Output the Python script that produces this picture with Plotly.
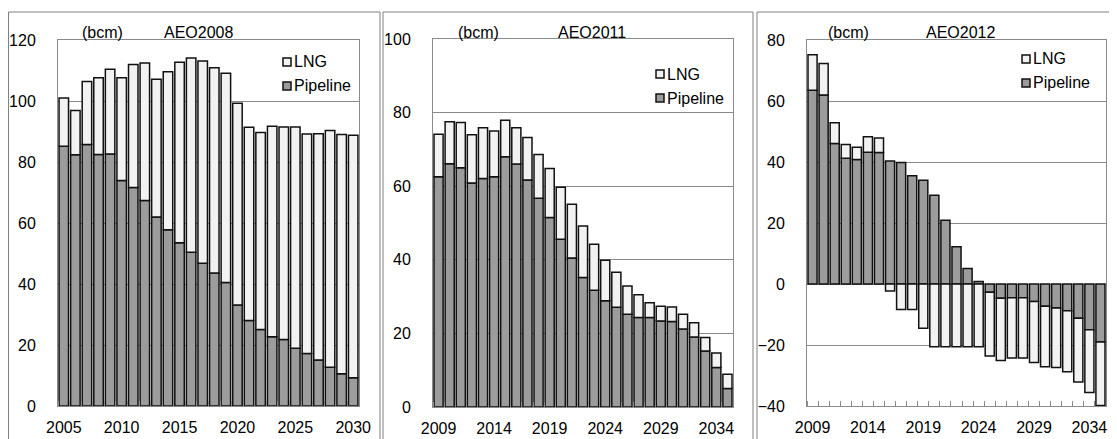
import plotly.graph_objects as go

# ---------------- data ----------------
years_2008 = [2005, 2006, 2007, 2008, 2009, 2010, 2011, 2012, 2013, 2014, 2015, 2016, 2017,
              2018, 2019, 2020, 2021, 2022, 2023, 2024, 2025, 2026, 2027, 2028, 2029, 2030]
pipeline_2008 = [85.2, 82.4, 85.7, 82.5, 82.6, 73.9, 71.6, 67.4, 62.0, 57.8, 53.5, 50.4, 46.8,
                 43.6, 40.5, 33.1, 28.0, 25.1, 22.7, 21.8, 18.9, 17.2, 15.1, 12.7, 10.6, 9.3]
lng_2008 = [15.8, 14.5, 20.7, 25.1, 27.8, 33.7, 40.4, 45.1, 45.1, 51.8, 59.2, 63.7, 66.3,
            67.3, 68.6, 66.2, 63.4, 64.6, 69.0, 69.7, 72.6, 72.0, 74.2, 77.6, 78.4, 79.5]

years_2011 = [2009, 2010, 2011, 2012, 2013, 2014, 2015, 2016, 2017, 2018, 2019, 2020, 2021, 2022,
              2023, 2024, 2025, 2026, 2027, 2028, 2029, 2030, 2031, 2032, 2033, 2034, 2035]
pipeline_2011 = [62.6, 66.1, 65.0, 60.9, 62.1, 62.6, 68.0, 66.0, 61.7, 56.7, 51.5, 45.6, 40.5, 35.2,
                 31.7, 28.9, 27.1, 25.2, 24.3, 24.3, 23.4, 23.2, 21.2, 19.0, 15.2, 10.7, 5.0]
lng_2011 = [11.5, 11.4, 12.3, 13.1, 13.8, 12.4, 9.9, 9.9, 11.5, 11.9, 13.3, 14.1, 14.6, 14.0,
            12.5, 11.0, 9.5, 7.7, 6.2, 4.0, 4.0, 4.0, 4.0, 3.9, 3.7, 4.0, 3.9]

years_2012 = [2009, 2010, 2011, 2012, 2013, 2014, 2015, 2016, 2017, 2018, 2019, 2020, 2021, 2022,
              2023, 2024, 2025, 2026, 2027, 2028, 2029, 2030, 2031, 2032, 2033, 2034, 2035]
pipeline_2012 = [63.5, 62.0, 46.1, 41.2, 40.8, 43.2, 43.1, 40.3, 39.8, 35.5, 34.0, 29.1, 20.9, 12.2,
                 5.1, 0.8, -2.7, -4.7, -4.5, -4.5, -5.7, -7.3, -7.9, -8.8, -11.2, -15.0, -19.0]
lng_2012 = [11.7, 10.3, 6.8, 4.5, 4.0, 5.1, 4.8, -2.3, -8.4, -8.4, -14.5, -20.6, -20.6, -20.6,
            -20.6, -20.6, -20.9, -20.4, -19.8, -19.8, -20.0, -19.8, -19.5, -20.0, -20.9, -20.6, -20.8]

panel_titles = ["AEO2008", "AEO2011", "AEO2012"]
unit_label = "(bcm)"
series_names = ["LNG", "Pipeline"]
y_ranges = [[0, 120], [0, 100], [-40, 80]]

# ---------------- layout helpers ----------------
# The page body has an 8px margin, so the figure is drawn 8px in from the top-left corner.
OFF = 8
W, H = 1117 - OFF, 439 - OFF
def px(x):
    return (x - OFF) / W
def py(y):
    return 1 - (y - OFF) / H

PIPE_COLOR = "#9c9c9c"
LNG_COLOR = "#f2f2f2"
GRID = "#8a8a8a"
FONT = "Liberation Sans, Arial, sans-serif"

panels = [
    dict(years=years_2008, pipe=pipeline_2008, lng=lng_2008,
         dom_x=(58, 359), dom_y=(40, 406), title_x=(102, 198),
         leg=(283, 62)),
    dict(years=years_2011, pipe=pipeline_2011, lng=lng_2011,
         dom_x=(433, 733), dom_y=(39, 407), title_x=(478, 592),
         leg=(656, 74)),
    dict(years=years_2012, pipe=pipeline_2012, lng=lng_2012,
         dom_x=(807, 1106), dom_y=(40, 406), title_x=(848, 960),
         leg=(1022, 59)),
]

fig = go.Figure()
shapes = []
annotations = []

for i, p in enumerate(panels):
    n = "" if i == 0 else str(i + 1)
    xa, ya = "x" + n, "y" + n
    fig.add_trace(go.Bar(x=p["years"], y=p["pipe"], name=series_names[1], xaxis=xa, yaxis=ya,
                         marker=dict(color=PIPE_COLOR, line=dict(color="#111111", width=1.5)),
                         showlegend=False))
    fig.add_trace(go.Bar(x=p["years"], y=p["lng"], name=series_names[0], xaxis=xa, yaxis=ya,
                         marker=dict(color=LNG_COLOR, line=dict(color="#111111", width=1.5)),
                         showlegend=False))
    yrs = p["years"]
    x0, x1 = p["dom_x"]
    y0, y1 = p["dom_y"]
    fig.layout["xaxis" + n] = dict(
        domain=[px(x0), px(x1)], anchor=ya, automargin=False,
        range=[yrs[0] - 0.5, yrs[-1] + 0.5],
        tickmode="array", tickvals=yrs[::5], ticktext=[str(v) for v in yrs[::5]],
        ticks="", showgrid=False, zeroline=False,
        showline=True, mirror=True, linecolor=GRID, linewidth=1,
        tickfont=dict(family=FONT, size=16, color="black"),
        ticklabelstandoff=7,
        minor=dict(tickmode="array", tickvals=[v - 0.5 for v in yrs] + [yrs[-1] + 0.5],
                   ticks="inside", ticklen=5, tickcolor=GRID, showgrid=False),
    )
    fig.layout["yaxis" + n] = dict(
        domain=[py(y1), py(y0)], anchor=xa, automargin=False,
        range=y_ranges[i], dtick=20, ticks="",
        showgrid=True, gridcolor=GRID, gridwidth=1,
        zeroline=False,
        showline=True, mirror=True, linecolor=GRID, linewidth=1,
        tickfont=dict(family=FONT, size=16, color="black"),
        ticklabelstandoff=18,
    )
    # titles
    annotations.append(dict(text=unit_label, x=px(p["title_x"][0]), y=py(33), xref="paper", yref="paper",
                            showarrow=False, xanchor="center", yanchor="middle",
                            font=dict(family=FONT, size=16, color="black")))
    annotations.append(dict(text=panel_titles[i], x=px(p["title_x"][1]), y=py(33), xref="paper", yref="paper",
                            showarrow=False, xanchor="center", yanchor="middle",
                            font=dict(family=FONT, size=16, color="black")))
    # manual legend
    lx, ly = p["leg"]
    for k, (nm, col) in enumerate([(series_names[0], LNG_COLOR), (series_names[1], PIPE_COLOR)]):
        cy = ly + 24 * k
        shapes.append(dict(type="rect", xref="paper", yref="paper",
                           x0=px(lx), x1=px(lx + 8), y0=py(cy + 4), y1=py(cy - 4),
                           fillcolor=col, line=dict(color="#111111", width=1.5)))
        annotations.append(dict(text=nm, x=px(lx + 9), y=py(cy), xref="paper", yref="paper",
                                showarrow=False, xanchor="left", yanchor="middle",
                                font=dict(family=FONT, size=16, color="black")))

# outer panel frames
for (a, b) in [(8.5, 380), (383, 753), (757, 1115)]:
    shapes.append(dict(type="line", xref="paper", yref="paper", x0=px(a), x1=px(b), y0=py(12), y1=py(12),
                       line=dict(color="#808080", width=1)))
    for xv in (a, b):
        shapes.append(dict(type="line", xref="paper", yref="paper", x0=px(xv), x1=px(xv), y0=py(12), y1=0,
                           line=dict(color="#808080", width=1)))

fig.update_layout(
    width=W, height=H, barmode="relative", bargap=0.18,
    margin=dict(l=0, r=0, t=0, b=0, autoexpand=False),
    paper_bgcolor="white", plot_bgcolor="white",
    showlegend=False, shapes=shapes, annotations=annotations,
    font=dict(family=FONT, size=16, color="black"),
)

fig.write_html("out.html")
